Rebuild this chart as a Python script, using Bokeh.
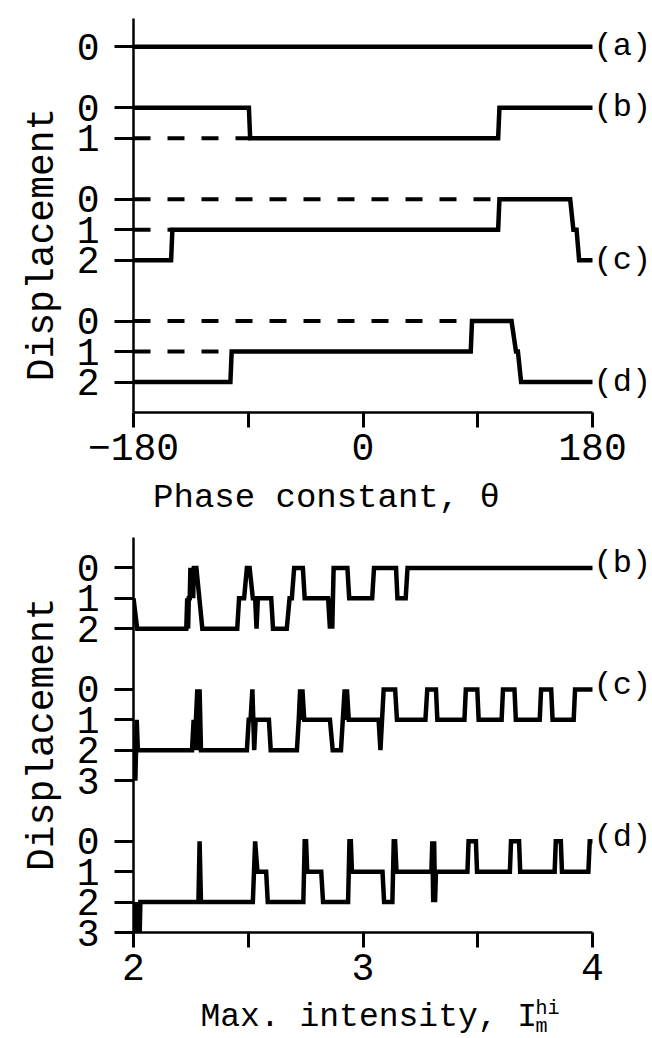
import math
from bokeh.plotting import figure
from bokeh.models import Range1d, FixedTicker, ColumnDataSource
from bokeh.layouts import column, row
from bokeh.embed import file_html
from bokeh.resources import INLINE
from bokeh.core.properties import value

FONT = "Liberation Mono"
TICK_FS = "38px"
TITLE_FS = "34px"
YTITLE_FS = "38px"
TAG_FS = "32px"

# ---------------- data: top panel (phase constant theta, displacement) -------------
theta_a = [-180, 180]
disp_a = [0, 0]
theta_b = [-180, -89.5, -88.5, 106, 107, 180]
disp_b = [0, 0, 1, 1, 0, 0]
theta_c = [-180, -150.5, -149.5, 106, 107, 162.5, 165, 167.5, 169.5, 180]
disp_c = [2, 2, 1, 1, 0, 0, 1, 1, 2, 2]
theta_d = [-180, -104, -103, 84.5, 85.5, 116.5, 120, 121.5, 124, 180]
disp_d = [2, 2, 1, 1, 0, 0, 1, 1, 2, 2]
top_names = ["(a)", "(b)", "(c)", "(d)"]
top_levels = [[0], [0, 1], [0, 1, 2], [0, 1, 2]]
theta_ticks = [-180, -90, 0, 90, 180]
theta_labels = ["\u2212180", "", "0", "", "180"]

# ---------------- data: bottom panel (max. intensity, displacement) ----------------
int_b = [2.000, 2.016, 2.230, 2.234, 2.238, 2.241, 2.245, 2.248, 2.252, 2.256,
         2.260, 2.263, 2.274, 2.300, 2.452, 2.460, 2.482, 2.494, 2.506, 2.520,
         2.530, 2.536, 2.542, 2.600, 2.608, 2.668, 2.680, 2.690, 2.700, 2.738,
         2.746, 2.848, 2.856, 2.862, 2.866, 2.872, 2.932, 2.940, 3.040, 3.048,
         3.144, 3.150, 3.186, 3.194, 4.000]
disp_b2 = [1, 2, 2, 1, 2, 1, 1, 0, 1, 0,
           1, 0, 0, 2, 2, 1, 1, 0, 0, 1,
           1, 2, 1, 1, 2, 2, 1, 1, 0, 0,
           1, 1, 2, 1, 2, 0, 0, 1, 1, 0,
           0, 1, 1, 0, 0]
int_c = [2.000, 2.004, 2.008, 2.011, 2.014, 2.019, 2.255, 2.262, 2.268, 2.272,
         2.278, 2.284, 2.288, 2.294, 2.494, 2.502, 2.510, 2.518, 2.526, 2.532,
         2.590, 2.598, 2.712, 2.720, 2.726, 2.732, 2.736, 2.744, 2.856, 2.868,
         2.904, 2.912, 2.920, 2.926, 2.930, 2.938, 3.068, 3.076, 3.090, 3.140,
         3.148, 3.272, 3.280, 3.318, 3.324, 3.442, 3.448, 3.498, 3.504, 3.604,
         3.610, 3.660, 3.666, 3.770, 3.776, 3.820, 3.826, 3.918, 3.924, 4.000]
disp_c2 = [3, 2, 3, 2, 1, 2, 2, 1, 2, 1,
           0, 2, 0, 2, 2, 1, 1, 0, 2, 1,
           1, 2, 2, 1, 0, 1, 0, 1, 1, 2,
           2, 1, 0, 1, 0, 1, 1, 2, 0, 0,
           1, 1, 0, 0, 1, 1, 0, 0, 1, 1,
           0, 0, 1, 1, 0, 0, 1, 1, 0, 0]
int_d = [2.000, 2.003, 2.006, 2.009, 2.012, 2.015, 2.018, 2.021, 2.024, 2.027,
         2.030, 2.283, 2.288, 2.294, 2.520, 2.530, 2.540, 2.578, 2.585, 2.740,
         2.746, 2.752, 2.757, 2.818, 2.826, 2.935, 2.941, 2.947, 2.952, 3.085,
         3.092, 3.128, 3.134, 3.140, 3.146, 3.298, 3.302, 3.306, 3.310, 3.314,
         3.318, 3.455, 3.460, 3.492, 3.497, 3.640, 3.645, 3.680, 3.685, 3.835,
         3.840, 3.862, 3.867, 3.982, 3.988, 4.000]
disp_d2 = [2, 3, 2, 3, 2, 3, 2, 3, 2, 3,
           2, 2, 0, 2, 2, 0, 1, 1, 2, 2,
           0, 0, 1, 1, 2, 2, 0, 0, 1, 1,
           2, 2, 0, 0, 1, 1, 0, 2, 0, 2,
           1, 1, 0, 0, 1, 1, 0, 0, 1, 1,
           0, 0, 1, 1, 0, 0]
bot_names = ["(b)", "(c)", "(d)"]
bot_levels = [[0, 1, 2], [0, 1, 2, 3], [0, 1, 2, 3]]
int_ticks = [2, 2.5, 3, 3.5, 4]
int_labels = ["2", "", "3", "", "4"]

# ---------------- layout constants ----------------
TOP_OFFSETS = [1, 3, 6, 10]
BOT_OFFSETS = [1, 5, 10]
LW = 4.5
YLAB_W = 70          # width of the strip holding the rotated y titles
ROW_H = 476          # height of each plot row
GAP1_H = 44          # strip under the top plot (x title)
GAP2_H = 1038 - 2 * ROW_H - GAP1_H


def style_axes(p, xticks, xlabels, yticks, ylabels):
    p.xgrid.visible = False
    p.ygrid.visible = False
    p.outline_line_color = None
    for ax in (p.xaxis[0], p.yaxis[0]):
        ax.axis_line_width = 2.5
        ax.axis_line_color = "black"
        ax.major_tick_line_width = 3
        ax.major_tick_line_color = "black"
        ax.minor_tick_line_color = None
        ax.major_tick_in = 0
        ax.major_label_text_font = FONT
        ax.major_label_text_font_size = TICK_FS
        ax.major_label_text_color = "black"
        ax.axis_label = None
    xa = p.xaxis[0]
    xa.ticker = FixedTicker(ticks=xticks)
    xa.major_label_overrides = {t: s for t, s in zip(xticks, xlabels)}
    xa.major_tick_out = 15
    xa.major_label_standoff = 6
    ya = p.yaxis[0]
    ya.ticker = FixedTicker(ticks=yticks)
    ya.major_label_overrides = {t: s for t, s in zip(yticks, ylabels)}
    ya.major_tick_out = 19
    ya.major_label_standoff = 15


def text_fig(w, h, items):
    """A bare strip (no axes); items are placed in its own pixels, y given from the top."""
    f = figure(width=w, height=h, x_range=Range1d(0, w), y_range=Range1d(0, h),
               x_axis_type=None, y_axis_type=None, min_border=0,
               output_backend="svg", toolbar_location=None)
    f.grid.visible = False
    f.outline_line_color = None
    for (tx, ty, txt, size, align, ang) in items:
        f.text(x=[tx], y=[h - ty], text=[txt], text_font=value(FONT), text_font_size=size,
               text_align=align, text_baseline="middle", angle=ang, text_color="black")
    return f


def make_plot(xr, yr, top_border, frame_h):
    return figure(frame_width=519, frame_height=frame_h, min_border_left=133 - YLAB_W,
                  min_border_right=0, min_border_top=top_border,
                  min_border_bottom=ROW_H - top_border - frame_h,
                  output_backend="svg", toolbar_location=None, x_range=xr, y_range=yr,
                  background_fill_color="white", border_fill_color="white")


# ================= top panel =================
p1 = make_plot(Range1d(-180, -180 + 519 * 360 / 459), Range1d(-13, -0.07), 18, 394)
top_series = [(theta_a, disp_a), (theta_b, disp_b), (theta_c, disp_c), (theta_d, disp_d)]
yt, yl = [], []
lab_x, lab_y, lab_t = [], [], []
for (xs, ds), off, lev, name in zip(top_series, TOP_OFFSETS, top_levels, top_names):
    ys = [-(off + d) for d in ds]
    p1.line(xs, ys, line_width=LW, line_color="black", line_join="miter")
    for L in lev:
        yt.append(-(off + L))
        yl.append(str(L))
        if L != ds[0]:
            first = xs[ds.index(L)]
            p1.line([xs[0], first], [-(off + L), -(off + L)], line_width=4,
                    line_color="black", line_dash="17 17")
    lab_x.append(xs[-1]); lab_y.append(ys[-1]); lab_t.append(name)
p1.text(x="x", y="y", text="t", source=ColumnDataSource(dict(x=lab_x, y=lab_y, t=lab_t)),
        text_font=value(FONT), text_font_size=TAG_FS, text_baseline="middle",
        text_align="left", x_offset=1, text_color="black")
style_axes(p1, theta_ticks, theta_labels, yt, yl)
p1.xaxis.bounds = (-180, 180)

# ================= bottom panel =================
p2 = make_plot(Range1d(2, 2 + 519 / 229.5), Range1d(-13, 0), 17, 395)
bot_series = [(int_b, disp_b2), (int_c, disp_c2), (int_d, disp_d2)]
yt, yl = [], []
lab_x, lab_y, lab_t = [], [], []
for (xs, ds), off, lev, name in zip(bot_series, BOT_OFFSETS, bot_levels, bot_names):
    ys = [-(off + d) for d in ds]
    p2.line(xs, ys, line_width=LW, line_color="black", line_join="miter")
    for L in lev:
        yt.append(-(off + L))
        yl.append(str(L))
    lab_x.append(xs[-1]); lab_y.append(ys[-1]); lab_t.append(name)
p2.text(x="x", y="y", text="t", source=ColumnDataSource(dict(x=lab_x, y=lab_y, t=lab_t)),
        text_font=value(FONT), text_font_size=TAG_FS, text_baseline="middle",
        text_align="left", x_offset=1, y_offset=-4, text_color="black")
style_axes(p2, int_ticks, int_labels, yt, yl)
p2.xaxis.bounds = (2, 4)

# ================= title strips =================
ylab1 = text_fig(YLAB_W, ROW_H, [(42, 273, "Displacement", YTITLE_FS, "center", math.pi / 2)])
ylab2 = text_fig(YLAB_W, ROW_H, [(42, 237, "Displacement", YTITLE_FS, "center", math.pi / 2)])
xlab1 = text_fig(652, GAP1_H, [(326, 21, "Phase constant, \u03b8", TITLE_FS, "center", 0)])
xlab2 = text_fig(652, GAP2_H, [(200, 21, "Max. intensity, I", "33px", "left", 0),
                               (535, 12, "hi", "20px", "left", 0),
                               (535, 30, "m", "20px", "left", 0)])

layout = column(row(ylab1, p1, spacing=0), xlab1,
                row(ylab2, p2, spacing=0), xlab2, spacing=0)
open("out.html", "w").write(file_html(layout, INLINE))
